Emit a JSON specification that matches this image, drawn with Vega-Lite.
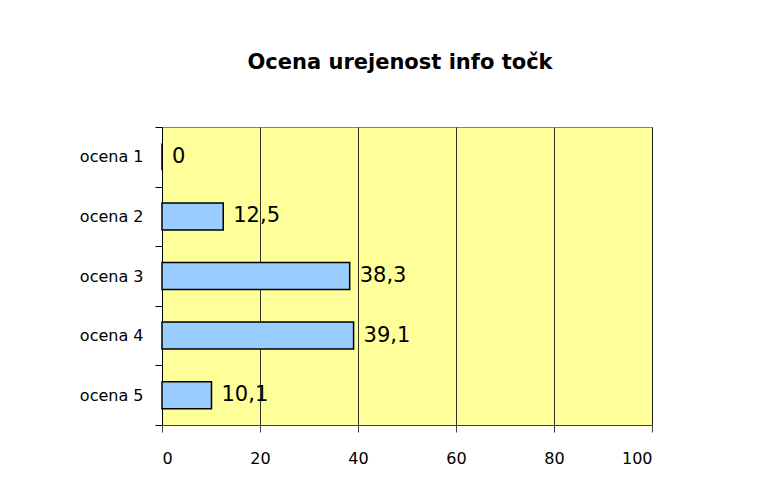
{
  "$schema": "https://vega.github.io/schema/vega-lite/v6.json",
  "width": 490,
  "height": 298,
  "autosize": {"type": "none"},
  "padding": {"left": 162, "top": 127, "right": 117, "bottom": 79},
  "background": "#ffffff",
  "config": {
    "locale": {"number": {"decimal": ",", "thousands": ".", "grouping": [3], "currency": ["", " €"]}},
    "view": {"fill": "#FFFF99", "stroke": "#808080", "strokeWidth": 1},
    "font": "DejaVu Sans"
  },
  "title": {
    "text": "Ocena urejenost info točk",
    "font": "DejaVu Sans",
    "fontSize": 21,
    "fontWeight": "bold",
    "color": "#000000",
    "anchor": "middle",
    "offset": 46,
    "dx": -7
  },
  "data": {
    "values": [
      {"ocena": "ocena 1", "vrednost": 0},
      {"ocena": "ocena 2", "vrednost": 12.5},
      {"ocena": "ocena 3", "vrednost": 38.3},
      {"ocena": "ocena 4", "vrednost": 39.1},
      {"ocena": "ocena 5", "vrednost": 10.1}
    ]
  },
  "encoding": {
    "y": {
      "field": "ocena",
      "type": "nominal",
      "sort": null,
      "title": null,
      "scale": {"paddingInner": 0, "paddingOuter": 0},
      "axis": {
        "tickBand": "extent",
        "domainColor": "#000000",
        "domainWidth": 1,
        "tickColor": "#000000",
        "tickSize": 7,
        "labelFontSize": 16,
        "labelColor": "#000000",
        "labelPadding": 12,
        "labelFont": "DejaVu Sans",
        "labelFontWeight": "normal"
      }
    },
    "x": {
      "field": "vrednost",
      "type": "quantitative",
      "title": null,
      "scale": {"domain": [0, 100], "nice": false},
      "axis": {
        "values": [0, 20, 40, 60, 80, 100],
        "grid": true,
        "gridColor": "#000000",
        "gridOpacity": 0.8,
        "gridWidth": 1,
        "domainColor": "#404040",
        "tickColor": "#404040",
        "tickSize": 7,
        "labelFontSize": 16,
        "labelColor": "#000000",
        "labelPadding": 18,
        "labelFont": "DejaVu Sans",
        "format": "d"
      }
    }
  },
  "layer": [
    {
      "mark": {"type": "bar", "size": 27, "fill": "#99CCFF", "stroke": "#000000", "strokeWidth": 1.5}
    },
    {
      "mark": {"type": "text", "align": "left", "baseline": "middle", "dx": 10, "fontSize": 21, "color": "#000000", "font": "DejaVu Sans"},
      "encoding": {
        "text": {"field": "vrednost", "type": "quantitative", "format": ".1~f"}
      }
    }
  ]
}
